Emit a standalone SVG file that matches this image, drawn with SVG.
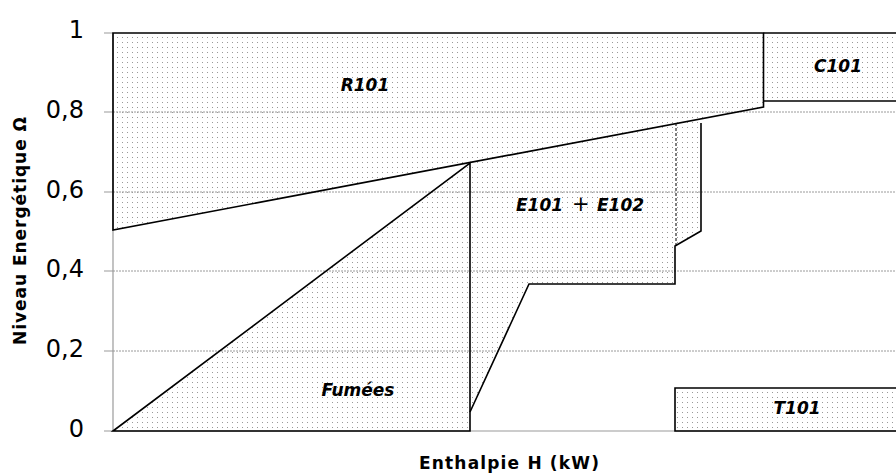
<svg xmlns="http://www.w3.org/2000/svg" width="896" height="476" viewBox="0 0 896 476">
<defs>
<pattern id="dots" width="5" height="5" patternUnits="userSpaceOnUse"><rect x="2" y="2" width="1" height="1" fill="#999"/></pattern>
</defs>
<style>
.fill{fill:url(#dots);stroke:none}
.edge{fill:none;stroke:#000;stroke-width:1.6;stroke-linejoin:miter}
.grid{stroke:#9a9a9a;stroke-width:1;stroke-dasharray:2,1;fill:none}
.axis{stroke:#9a9a9a;stroke-width:1.2;fill:none}
.tick{font-family:"DejaVu Sans",sans-serif;font-size:24px;fill:#000;text-anchor:end}
.lbl{font-family:"DejaVu Sans",sans-serif;font-size:17px;font-weight:bold;font-style:oblique;fill:#000;text-anchor:middle}
.ax{font-family:"DejaVu Sans",sans-serif;font-size:17px;font-weight:bold;fill:#000;text-anchor:middle}
</style>
<rect width="896" height="476" fill="#fff"/>

<g id="fills">
<polygon class="fill" points="113,33 763.5,33 763.5,107 113,230"/>
<polygon class="fill" points="763.5,33 900,33 900,101 763.5,101"/>
<polygon class="fill" points="470,163 470,412 529,284 675,284 675,246 701,231 701,118.8"/>
<polygon class="fill" points="113,431 470,163 470,431"/>
<polygon class="fill" points="675,388 900,388 900,431 675,431"/>
</g>

<g id="axes">
<line class="grid" x1="113" y1="112" x2="896" y2="112"/>
<line class="grid" x1="113" y1="192" x2="896" y2="192"/>
<line class="grid" x1="113" y1="271" x2="896" y2="271"/>
<line class="grid" x1="113" y1="351" x2="896" y2="351"/>
<line class="axis" x1="113" y1="33" x2="113" y2="431"/>
<line class="axis" x1="113" y1="431" x2="896" y2="431"/>
<path class="axis" d="M104,33H113M104,112H113M104,192H113M104,271H113M104,351H113M104,431H113"/>
<text class="tick" x="84" y="38">1</text>
<text class="tick" x="84" y="118">0,8</text>
<text class="tick" x="84" y="198">0,6</text>
<text class="tick" x="84" y="277">0,4</text>
<text class="tick" x="84" y="357">0,2</text>
<text class="tick" x="84" y="437">0</text>
<text class="ax" x="509" y="469" textLength="180" lengthAdjust="spacing">Enthalpie H (kW)</text>
<text class="ax" transform="translate(26,231) rotate(-90)" textLength="228" lengthAdjust="spacing">Niveau Energétique Ω</text>
</g>

<g id="R101">
<polygon class="edge" points="113,33 763.5,33 763.5,107 113,230"/>
<text class="lbl" x="365" y="91">R101</text>
</g>

<g id="C101">
<polyline class="edge" points="763.5,33 900,33"/>
<polyline class="edge" points="763.5,101 900,101"/>
<text class="lbl" x="838" y="72">C101</text>
</g>

<g id="Fumees">
<polygon class="edge" points="113,431 470,163 470,431"/>
<text class="lbl" x="358" y="396">Fumées</text>
</g>

<g id="E101_E102">
<polyline class="edge" points="470,412 529,284 675,284 675,246 701,231 701,123"/>
<line x1="676" y1="246" x2="676" y2="123.5" stroke="#000" stroke-width="1" stroke-dasharray="3,2"/>
<text class="lbl" style="text-anchor:start"><tspan x="516" y="211">E101</tspan><tspan x="572" y="211" style="font-weight:normal;font-style:normal;font-size:21px">+</tspan><tspan x="597" y="211">E102</tspan></text>
</g>

<g id="T101">
<polyline class="edge" points="900,388 675,388 675,431 900,431"/>
<text class="lbl" x="797" y="414">T101</text>
</g>

<g id="connectors"></g>
</svg>
